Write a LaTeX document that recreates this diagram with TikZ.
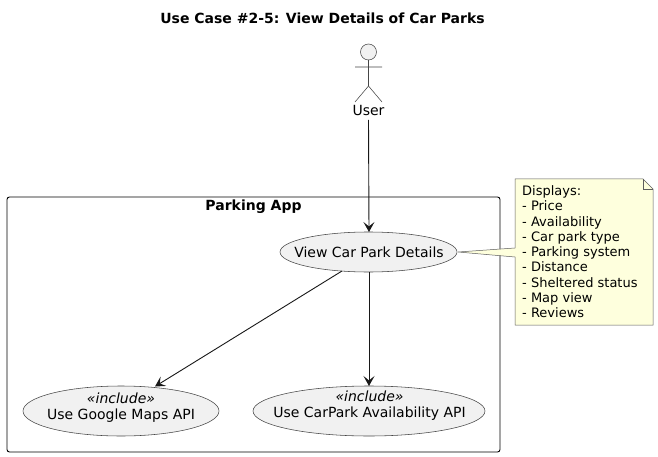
\documentclass[tikz,border=0pt]{standalone}
\usepackage{fontspec}
\setmainfont{DejaVu Sans}
\usetikzlibrary{arrows.meta}
\definecolor{ucfill}{HTML}{F1F1F1}
\definecolor{ucline}{HTML}{181818}
\definecolor{notefill}{HTML}{FEFFDD}
\tikzset{
  x=1pt,y=-1pt,
  txt/.style={font=\fontsize{14}{16}\selectfont,inner sep=0pt,text=black},
  usecase/.style={draw=ucline!80,fill=ucfill,line width=0.55pt},
  flow/.style={draw=ucline,line width=0.9pt,-{Stealth[length=10pt,width=11pt,inset=4.5pt]}},
}
\begin{document}
\begin{tikzpicture}
\useasboundingbox (0,0) rectangle (658,457);
\fill[white] (0,0) rectangle (658,457);
\node[txt,font=\fontsize{14}{16}\selectfont\bfseries] (title) at (322.5,18) {Use Case \#2-5: View Details of Car Parks};
% system boundary
\draw[black,line width=0.9pt,rounded corners=2.5pt] (7,197) rectangle (500,452);
\node[txt,font=\fontsize{14}{16}\selectfont\bfseries] (app) at (253.5,207) {Parking App};
% actor
\draw[ucline!80,line width=0.55pt,fill=ucfill] (368.5,52) circle[radius=8];
\draw[ucline!80,line width=0.55pt] (368.5,60) -- (368.5,86) (355,67) -- (382,67) (355,102) -- (368.5,86) -- (382,102);
\node[txt] (user) at (368.5,110.5) {User};
\coordinate (userport) at (368.5,120);
% use cases
\draw[usecase] (368.5,252) ellipse[x radius=88.5,y radius=20];
\node[txt] (view) at (369,252) {View Car Park Details};
\draw[usecase] (121,411) ellipse[x radius=98,y radius=25];
\node[txt,align=center] (maps) at (121,407.5) {\textit{«include»}\\Use Google Maps API};
\draw[usecase] (369,411) ellipse[x radius=116,y radius=25];
\node[txt,align=center] (avail) at (369.5,406) {\textit{«include»}\\Use CarPark Availability API};
\coordinate (viewN) at (369,232);
\coordinate (viewS) at (369,272);
\coordinate (viewSW) at (342,271);
\coordinate (mapsN) at (155,386.5);
\coordinate (availN) at (369,386);
\draw[flow] (userport) -- (viewN);
\draw[flow] (viewS) -- (availN);
\draw[flow] (viewSW) -- (mapsN);
% note
\draw[draw=ucline!70,fill=notefill,line width=0.5pt] (515,179) -- (643,179) -- (653,189) -- (653,325) -- (515,325) -- (515,257) -- (458,252) -- (515,248) -- cycle;
\draw[draw=ucline!70,line width=0.5pt] (643,179) -- (643,189) -- (653,189);
\node[txt,align=left,anchor=north west,font=\fontsize{13}{15.25}\selectfont] (note) at (522,185.5) {Displays:\\- Price\\- Availability\\- Car park type\\- Parking system\\- Distance\\- Sheltered status\\- Map view\\- Reviews};
\end{tikzpicture}
\end{document}
